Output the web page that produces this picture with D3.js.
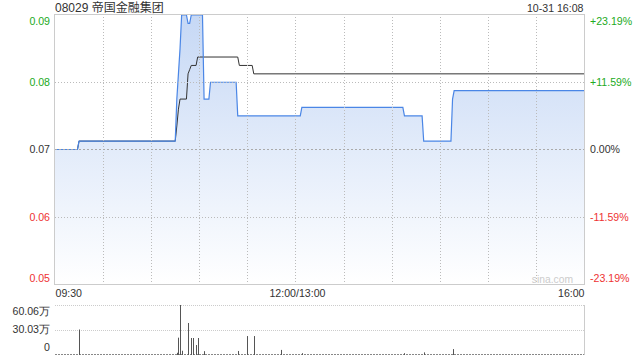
<!DOCTYPE html>
<html><head><meta charset="utf-8">
<script src="https://cdn.jsdelivr.net/npm/d3@7"></script>
<style>
body{margin:0;background:#fff;}
svg{display:block;font-family:"Liberation Sans",Arial,"Noto Sans CJK SC",sans-serif;}
</style></head>
<body><svg id="c" width="640" height="360"></svg>
<script>
// ---- data ----
const title = "08029 帝国金融集团";
const stamp = "10-31 16:08";
const priceTimes  = ["09:30","09:44","09:45","10:45","10:46","10:47","10:48","10:49","10:52","10:53","10:54","10:55","11:02","11:03","11:06","11:07","11:23","11:24","13:03","13:04","14:07","14:08","14:19","14:20","14:37","14:38","14:39","16:00"];
const priceValues = [0.069,0.069,0.070,0.070,0.075,0.078,0.081,0.085,0.085,0.084,0.084,0.085,0.085,0.075,0.075,0.077,0.077,0.073,0.073,0.074,0.074,0.073,0.073,0.070,0.070,0.075,0.076,0.076];
const avgTimes  = ["09:30","09:44","09:45","10:45","10:46","10:47","10:48","10:52","10:53","10:54","10:55","10:58","10:59","11:24","11:25","11:33","11:34","16:00"];
const avgValues = [0.069,0.069,0.070,0.070,0.0718,0.0738,0.075,0.075,0.078,0.0785,0.079,0.079,0.080,0.080,0.079,0.079,0.078,0.078];
const volTimes  = ["09:45","10:46","10:47","10:48","10:49","10:53","10:55","10:56","10:58","10:59","11:03","11:24","11:30","11:34","11:51","13:04","14:08","14:20","14:38"];
const volValues = [30.03,1.5,20,60.06,4,38,19.6,19.6,11,19.6,3.5,3.7,22,22,5,1,1,2,6];
const prevClose = 0.069;
const priceTicks  = [0.085,0.077,0.069,0.061,0.053];
const priceLabels = ["0.09","0.08","0.07","0.06","0.05"];
const pctLabels   = ["+23.19%","+11.59%","0.00%","-11.59%","-23.19%"];
const volTicks  = [60.06,30.03,0];
const volLabels = ["60.06万","30.03万","0"];
const timeTicks  = ["09:30","12:00","16:00"];
const timeLabels = ["09:30","12:00/13:00","16:00"];

// ---- helpers ----
function idx(s){const [h,m]=s.split(":").map(Number);const mins=h*60+m;
  return mins<=720 ? mins-570 : 150+(mins-780);}
const L=55,R=584,T=14,B=284,VT=305,VB=354;
const GREEN="#22aa22",RED="#ee3333",DARK="#333";
const labelColor=i=>i<2?GREEN:(i===2?DARK:RED);

const svg=d3.select("#c");
const x=d3.scaleLinear().domain([0,330]).range([L,R]);
const y=d3.scaleLinear().domain([0.053,0.085]).range([B,T+1]);
const yv=d3.scaleLinear().domain([0,60.06]).range([VB,VT]);

// gradient
const defs=svg.append("defs");
const g=defs.append("linearGradient").attr("id","fillg").attr("x1",0).attr("y1",0).attr("x2",0).attr("y2",1);
g.append("stop").attr("offset","0%").attr("stop-color","#c6d8f5");
g.append("stop").attr("offset","100%").attr("stop-color","#ffffff");
defs.append("clipPath").attr("id","clip").append("rect").attr("x",L).attr("y",T).attr("width",R-L).attr("height",B-T);

// area + lines
const pdata=priceTimes.map((t,i)=>({t:idx(t),v:priceValues[i]}));
const adata=avgTimes.map((t,i)=>({t:idx(t),v:avgValues[i]}));
const plot=svg.append("g").attr("clip-path","url(#clip)");
plot.append("path").datum(pdata)
  .attr("d",d3.area().x(d=>x(d.t)).y0(B).y1(d=>y(d.v)))
  .attr("fill","url(#fillg)");

// grid (drawn over the fill, as in the reference)
const vgrid=d3.range(1,11).map(i=>i*30);
svg.append("g").selectAll("line").data(vgrid).join("line")
  .attr("x1",d=>Math.round(x(d))+0.5).attr("x2",d=>Math.round(x(d))+0.5)
  .attr("y1",T).attr("y2",B).attr("stroke","#bbb").attr("stroke-dasharray","1,2");
svg.append("g").selectAll("line").data([priceTicks[1],priceTicks[3]]).join("line")
  .attr("x1",L).attr("x2",R).attr("y1",d=>Math.round(y(d))+0.5).attr("y2",d=>Math.round(y(d))+0.5)
  .attr("stroke","#bbb").attr("stroke-dasharray","1,2");
svg.append("line").attr("x1",L).attr("x2",R).attr("y1",Math.round(y(prevClose))+0.5).attr("y2",Math.round(y(prevClose))+0.5)
  .attr("stroke","#aaa").attr("stroke-dasharray","2,2");

plot.append("path").datum(adata)
  .attr("d",d3.line().x(d=>x(d.t)).y(d=>y(d.v)))
  .attr("fill","none").attr("stroke","#333").attr("stroke-width",1);
plot.append("path").datum(pdata)
  .attr("d",d3.line().x(d=>x(d.t)).y(d=>y(d.v)))
  .attr("fill","none").attr("stroke","#4a86e6").attr("stroke-width",1.2);

// frame
svg.append("rect").attr("x",L-0.5).attr("y",T+0.5).attr("width",R-L+1).attr("height",B-T)
  .attr("fill","none").attr("stroke","#ccc");

// watermark
svg.append("text").attr("x",573).attr("y",282.5).attr("text-anchor","end")
  .attr("font-size","10.3px").attr("fill","#ccc").text("sina.com");

// axes
const fs="10.6px";
const ay=svg.append("g").attr("transform",`translate(${L},0)`)
  .call(d3.axisLeft(y).tickValues(priceTicks).tickSize(0).tickPadding(5).tickFormat((d,i)=>priceLabels[i]));
ay.select(".domain").remove();
ay.selectAll("text").attr("font-size",fs).attr("font-family",null).attr("fill",(d,i)=>labelColor(i))
  .attr("dy",(d,i)=>i===0?"0.9em":(i===4?"-0.25em":"0.32em"));
const ar=svg.append("g").attr("transform",`translate(${R},0)`)
  .call(d3.axisRight(y).tickValues(priceTicks).tickSize(0).tickPadding(6).tickFormat((d,i)=>pctLabels[i]));
ar.select(".domain").remove();
ar.selectAll("text").attr("font-size",fs).attr("font-family",null).attr("fill",(d,i)=>labelColor(i))
  .attr("dy",(d,i)=>i===0?"0.9em":(i===4?"-0.25em":"0.32em"));
const ax=svg.append("g").attr("transform",`translate(0,${B})`)
  .call(d3.axisBottom(x).tickValues(timeTicks.map(idx)).tickSize(0).tickPadding(5).tickFormat((d,i)=>timeLabels[i]));
ax.select(".domain").remove();
ax.selectAll("text").attr("font-size",fs).attr("font-family",null).attr("fill",DARK)
  .attr("text-anchor",(d,i)=>i===0?"start":(i===2?"end":"middle"))
  .attr("dx",(d,i)=>i===1?"1.5":0);

// title
svg.append("text").attr("x",L).attr("y",11.5).attr("font-size","12px").attr("fill",DARK).text(title);
svg.append("text").attr("x",583.5).attr("y",11.5).attr("text-anchor","end").attr("font-size",fs).attr("fill",DARK).text(stamp);

// volume panel
svg.append("g").selectAll("line").data([volTicks[0],volTicks[1]]).join("line")
  .attr("x1",L).attr("x2",R).attr("y1",d=>Math.round(yv(d))+0.5).attr("y2",d=>Math.round(yv(d))+0.5)
  .attr("stroke","#ccc").attr("stroke-dasharray","1,1");
svg.append("line").attr("x1",R+0.5).attr("x2",R+0.5).attr("y1",VT).attr("y2",VB+1).attr("stroke","#ccc");
svg.append("line").attr("x1",L).attr("x2",R).attr("y1",VB+0.5).attr("y2",VB+0.5)
  .attr("stroke","#888").attr("stroke-dasharray","2,1");
svg.append("g").selectAll("line").data(volTimes.map((t,i)=>({t:idx(t),v:volValues[i]}))).join("line")
  .attr("x1",d=>Math.round(x(d.t))+0.5).attr("x2",d=>Math.round(x(d.t))+0.5)
  .attr("y1",VB+1).attr("y2",d=>yv(d.v)).attr("stroke","#555").attr("stroke-width",1);
const av=svg.append("g").attr("transform",`translate(${L},0)`)
  .call(d3.axisLeft(yv).tickValues(volTicks).tickSize(0).tickPadding(5).tickFormat((d,i)=>volLabels[i]));
av.select(".domain").remove();
av.selectAll("text").attr("font-size",fs).attr("font-family",null).attr("fill",DARK)
  .attr("dy",(d,i)=>i===0?"0.9em":(i===4?"-0.25em":(i===2?"-0.3em":"0.32em")));
</script></body></html>
